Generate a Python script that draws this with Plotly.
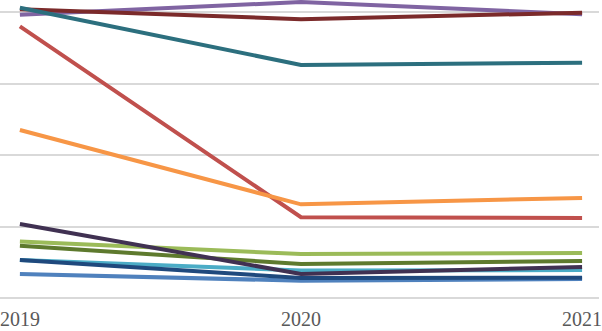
import plotly.graph_objects as go

years = [2019, 2020, 2021]
year_labels = ["2019", "2020", "2021"]

# values in gridline units (gridline every 100)
purple = [396, 414, 397]
maroon = [404, 390, 399]
teal = [406, 326, 329]
red = [380, 113, 112]
orange = [235, 131, 140]
light_green = [79, 61.5, 63]
dark_green = [73, 47.5, 51.7]
light_cyan = [53, 38.5, 39]
medium_blue = [33.6, 24.2, 26.6]
dark_blue = [53, 28, 28.4]
dark_purple = [103.5, 33.6, 43.4]

series = [
    ("Purple", purple, "#8064A2"),
    ("Maroon", maroon, "#7B2A2A"),
    ("Teal", teal, "#2C6F7E"),
    ("Red", red, "#C0504D"),
    ("Orange", orange, "#F79646"),
    ("Light green", light_green, "#9BBB59"),
    ("Dark green", dark_green, "#5E7A2E"),
    ("Light cyan", light_cyan, "#4BACC6"),
    ("Medium blue", medium_blue, "#4F81BD"),
    ("Dark blue", dark_blue, "#1F497D"),
    ("Dark purple", dark_purple, "#403152"),
]

fig = go.Figure()
for name, vals, color in series:
    fig.add_trace(go.Scatter(x=years, y=vals, mode="lines", name=name,
                             line=dict(color=color, width=4), hoverinfo="skip"))

fig.update_layout(
    width=602, height=331,
    margin=dict(l=0, r=0, t=0, b=26),
    paper_bgcolor="white", plot_bgcolor="white",
    showlegend=False,
    xaxis=dict(range=[2018.9292, 2021.0602], tickvals=years, ticktext=year_labels,
               showgrid=False, zeroline=False, showline=False,
               ticklabeloverflow="allow",
               tickfont=dict(family="Liberation Serif", size=20, color="#595959")),
    yaxis=dict(range=[-9.79, 416.78], tick0=0, dtick=100, showticklabels=False,
               showgrid=True, gridcolor="#D9D9D9", gridwidth=1.5, zeroline=False,
               showline=False),
)
fig.write_html("out.html", config={"displayModeBar": False},
               post_script="document.body.style.margin='0';document.body.style.overflow='hidden';")
